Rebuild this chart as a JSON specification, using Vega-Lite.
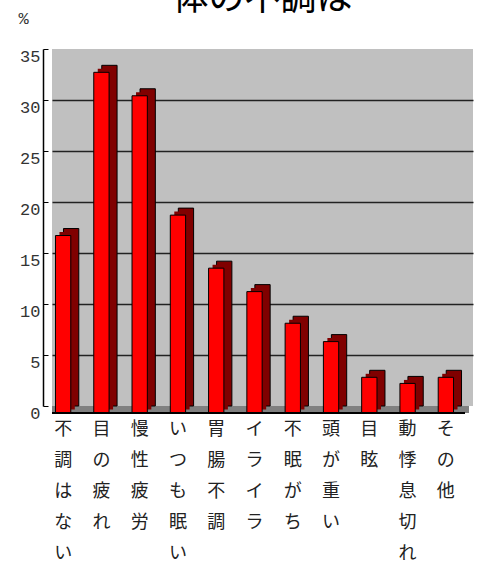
{
  "$schema": "https://vega.github.io/schema/vega-lite/v6.json",
  "width": 421,
  "height": 357,
  "autosize": {"type": "none"},
  "padding": {"left": 52, "top": 49, "right": 4, "bottom": 158},
  "background": "white",
  "title": {
    "text": "体の不調は",
    "font": "Noto Sans CJK JP",
    "fontSize": 36,
    "fontWeight": "normal",
    "color": "black",
    "anchor": "middle",
    "baseline": "alphabetic",
    "offset": 0,
    "dy": 37
  },
  "data": {
    "values": [
      {"item": "不調はない", "pct": 17.4},
      {"item": "目の疲れ", "pct": 33.4},
      {"item": "慢性疲労", "pct": 31.1},
      {"item": "いつも眠い", "pct": 19.4},
      {"item": "胃腸不調", "pct": 14.2},
      {"item": "イライラ", "pct": 11.9},
      {"item": "不眠がち", "pct": 8.8},
      {"item": "頭が重い", "pct": 7.0},
      {"item": "目眩", "pct": 3.5},
      {"item": "動悸息切れ", "pct": 2.9},
      {"item": "その他", "pct": 3.5}
    ]
  },
  "layer": [
    {
      "mark": {"type": "rule", "color": "#808080", "strokeWidth": 7, "yOffset": 3.5, "xOffset": -4},
      "encoding": {"y": {"datum": 0}}
    },
    {
      "encoding": {
        "x": {
          "field": "item",
          "type": "nominal",
          "sort": null,
          "scale": {"paddingInner": 0.6, "paddingOuter": 0.3},
          "axis": {
            "title": null,
            "domain": false,
            "ticks": false,
            "grid": false,
            "labelAngle": 0,
            "labelExpr": "split(datum.label, '')",
            "labelFont": "Noto Sans CJK JP",
            "labelFontSize": 18,
            "labelLineHeight": 31,
            "labelBaseline": "top",
            "labelPadding": 14,
            "labelOffset": -8,
            "labelColor": "#222",
            "labelLimit": 0,
            "labelOverlap": false
          }
        },
        "y": {
          "field": "pct",
          "type": "quantitative",
          "scale": {"domain": [0, 35], "nice": false},
          "axis": {
            "title": "%",
            "titleAngle": 0,
            "titleX": -20,
            "titleY": -31,
            "titleAlign": "center",
            "titleBaseline": "middle",
            "titleFont": "Liberation Mono",
            "titleFontSize": 17,
            "titleFontWeight": "normal",
            "titleColor": "#333",
            "offset": 9,
            "values": [0, 5, 10, 15, 20, 25, 30, 35],
            "grid": true,
            "gridColor": {"condition": {"test": "datum.value == 0 || datum.value == 35", "value": "transparent"}, "value": "#222"},
            "gridWidth": 1.5,
            "domainColor": "#000",
            "domainWidth": 1.5,
            "tickColor": "#000",
            "tickSize": -5,
            "labelOffset": 7,
            "labelPadding": 8,
            "labelFont": "Liberation Mono",
            "labelFontSize": 17,
            "labelColor": "#333"
          }
        }
      },
      "layer": [
        {"mark": {"type": "bar", "color": "#800000", "stroke": "black", "strokeWidth": 1}},
        {"mark": {"type": "bar", "color": "#800000", "xOffset": -4, "yOffset": 3.5, "y2Offset": 3.5}},
        {"mark": {"type": "bar", "color": "#ff0000", "stroke": "black", "strokeWidth": 1, "xOffset": -8, "yOffset": 7, "y2Offset": 7}}
      ]
    },
    {
      "mark": {"type": "rule", "color": "black", "strokeWidth": 1.5, "yOffset": 7, "xOffset": -8},
      "encoding": {"y": {"datum": 0}}
    }
  ],
  "config": {
    "font": "Noto Sans CJK JP",
    "view": {"fill": "#c0c0c0", "stroke": null}
  }
}
